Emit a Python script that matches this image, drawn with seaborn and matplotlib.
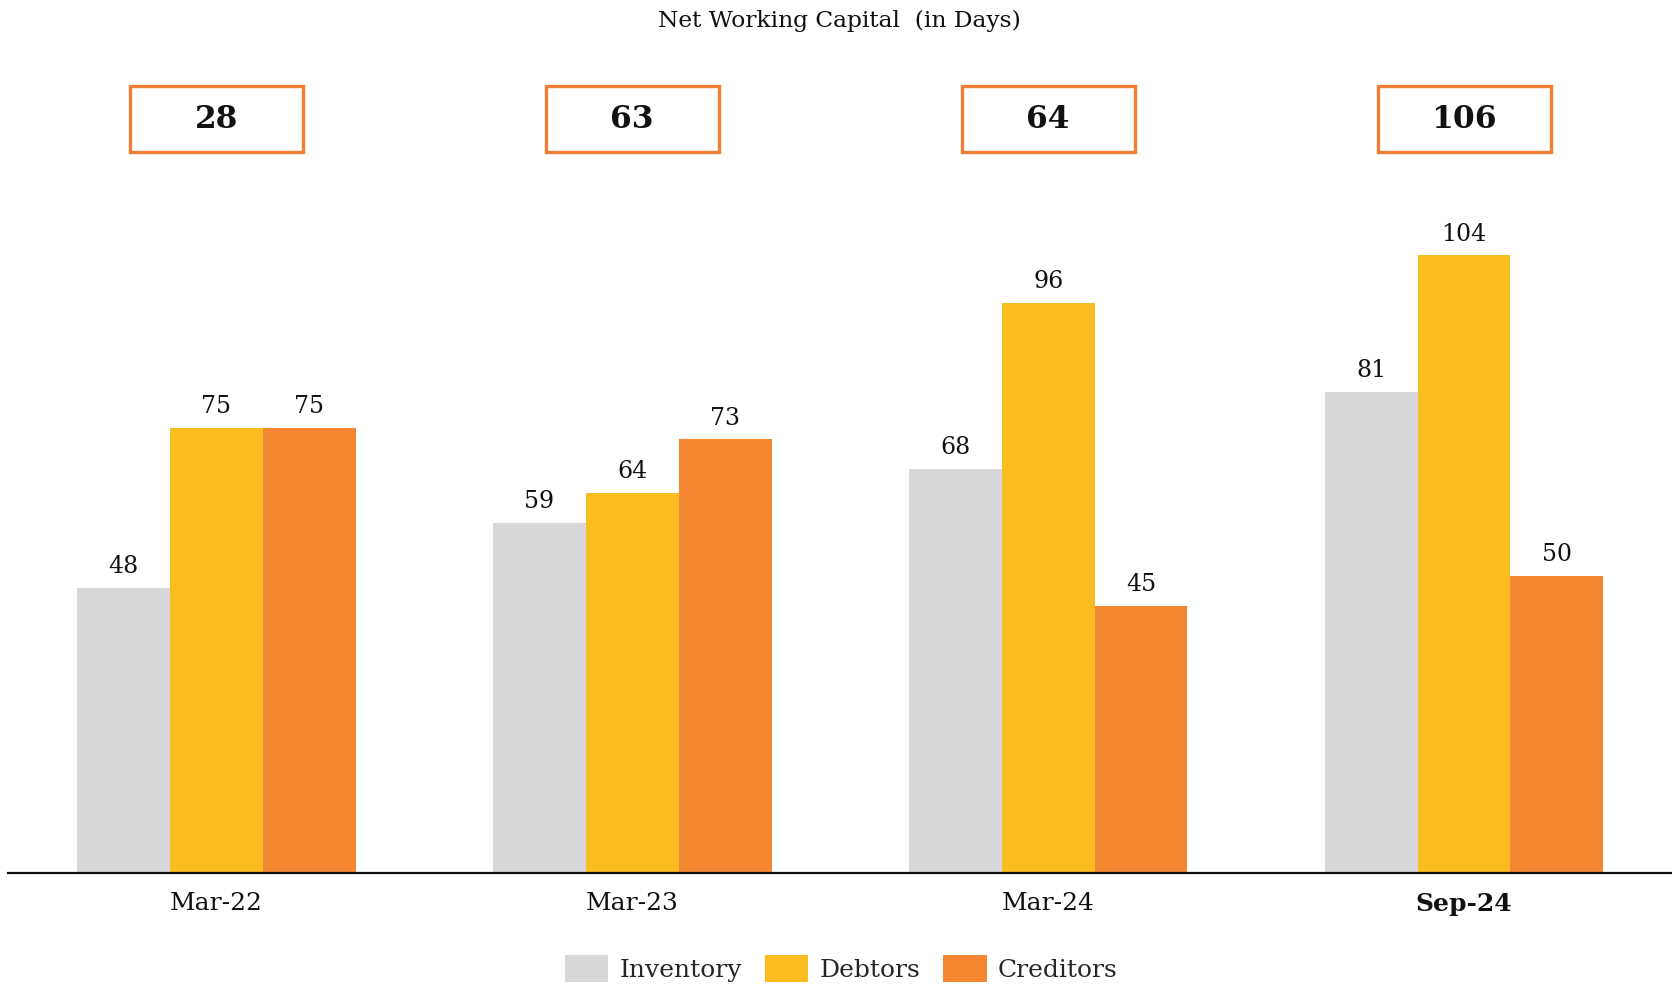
import matplotlib.pyplot as plt
import matplotlib.patches as mpatches
import seaborn as sns
import pandas as pd

# Net working capital days by period
periods = ['Mar-22', 'Mar-23', 'Mar-24', 'Sep-24']
inventory = [48, 59, 68, 81]
debtors = [75, 64, 96, 104]
creditors = [75, 73, 45, 50]
nwc_days = [28, 63, 64, 106]

series_names = ['Inventory', 'Debtors', 'Creditors']
palette = {'Inventory': '#D6D7D9', 'Debtors': '#FBBC1F', 'Creditors': '#F58733'}

df = pd.DataFrame({
    'period': periods * 3,
    'series': [s for s in series_names for _ in periods],
    'days': inventory + debtors + creditors,
})

sns.set_theme(style="white")
plt.rcParams['font.family'] = ['DejaVu Serif']

fig = plt.figure(figsize=(16.72, 9.88), dpi=100)
ax = fig.add_axes([0.005, 0.1164, 0.995, 0.8836])

sns.barplot(data=df, x='period', y='days', hue='series', palette=palette,
            width=0.67, gap=0, saturation=1, linewidth=0, ax=ax, legend=True)

for cont in ax.containers:
    ax.bar_label(cont, fmt='%d', padding=7, fontsize=17, color='#111111')

ax.set_xlim(-0.5, 3.5)
ax.set_ylim(0, 147)
ax.set_xlabel('')
ax.set_ylabel('')
ax.set_yticks([])
for side in ['top', 'left', 'right']:
    ax.spines[side].set_visible(False)
ax.spines['bottom'].set_color('#111111')
ax.spines['bottom'].set_linewidth(1.6)
ax.tick_params(axis='x', length=0, pad=14, labelsize=18, labelcolor='#111111')
ax.get_xticklabels()[-1].set_fontweight('bold')

# NWC boxes above each group
box_w, box_h, box_y = 0.416, 11.1, 121.35
for i, v in enumerate(nwc_days):
    ax.add_patch(mpatches.Rectangle((i - box_w / 2, box_y), box_w, box_h,
                                    fill=False, edgecolor='#F07F35', linewidth=2.4,
                                    clip_on=False))
    ax.text(i, box_y + box_h / 2, str(v), ha='center', va='center',
            fontsize=22.5, fontweight='bold', color='#111111')

fig.text(0.502, 0.979, 'Net Working Capital  (in Days)', ha='center', va='center',
         fontsize=16.8, color='#111111')

handles, labels = ax.get_legend_handles_labels()
ax.legend(handles, labels, loc='center', bbox_to_anchor=(0.503, 0.02),
          bbox_transform=fig.transFigure, ncol=3, frameon=False, fontsize=18,
          handlelength=1.75, handleheight=1.3, handletextpad=0.45, columnspacing=0.9)

fig.savefig('out.png', dpi=100)
